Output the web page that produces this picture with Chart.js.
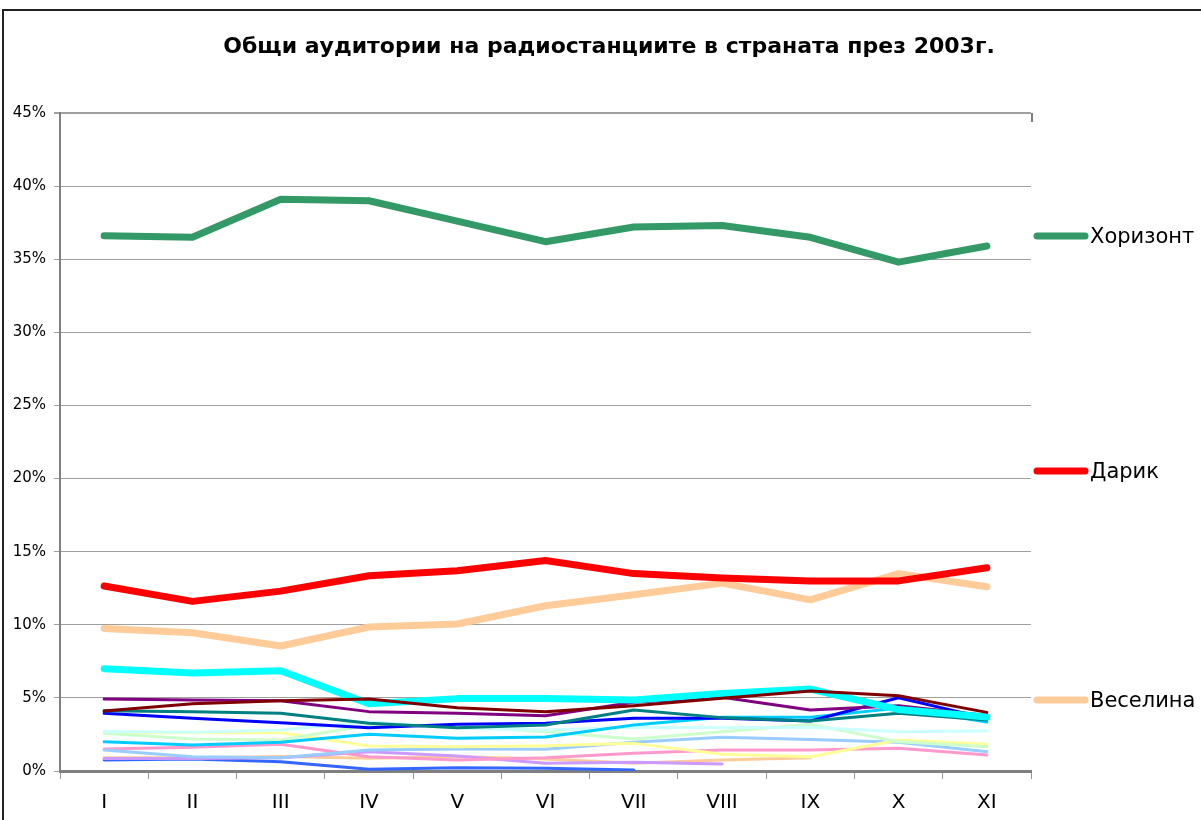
<!DOCTYPE html>
<html>
<head>
<meta charset="utf-8">
<title>Общи аудитории 2003</title>
<script src="https://cdn.jsdelivr.net/npm/chart.js@4.4.0/dist/chart.umd.min.js"></script>
<style>
    html, body { margin: 0; padding: 0; background: #fff; overflow: hidden; }
    #wrap { position: relative; width: 1201px; height: 820px; }
    #frame { position: absolute; left: 2px; top: 9px; width: 1300px; height: 900px;
             border-left: 2px solid #222; border-top: 2px solid #222; pointer-events: none; }
</style>
</head>
<body>
<div id="wrap">
    <canvas id="radioChart" width="1201" height="820"></canvas>
    <div id="frame"></div>
</div>
<script>
const months = ['I', 'II', 'III', 'IV', 'V', 'VI', 'VII', 'VIII', 'IX', 'X', 'XI'];
const yTicks = [0, 5, 10, 15, 20, 25, 30, 35, 40, 45];

// main stations (shown in legend)
const horizont = [36.6, 36.5, 39.1, 39.0, 37.6, 36.2, 37.2, 37.3, 36.5, 34.8, 35.9];
const darik = [12.65, 11.6, 12.3, 13.35, 13.7, 14.4, 13.5, 13.2, 13.0, 13.0, 13.9];
const veselina = [9.75, 9.45, 8.55, 9.85, 10.05, 11.3, 12.05, 12.85, 11.7, 13.5, 12.6];

// other stations (no legend entry)
const cyanSeries = [7.0, 6.7, 6.85, 4.6, 4.95, 4.95, 4.85, 5.3, 5.6, 4.2, 3.7];
const purpleSeries = [4.92, 4.86, 4.81, 4.06, 3.95, 3.78, 4.7, 5.05, 4.17, 4.47, 3.8];
const maroonSeries = [4.1, 4.6, 4.81, 4.92, 4.33, 4.06, 4.47, 4.97, 5.47, 5.15, 4.01];
const tealSeries = [4.12, 4.06, 3.95, 3.26, 2.96, 3.15, 4.17, 3.65, 3.42, 3.95, 3.49];
const blueSeries = [3.95, 3.6, 3.3, 2.96, 3.19, 3.26, 3.6, 3.6, 3.42, 5.01, 3.6];
const skySeries = [2.0, 1.78, 1.96, 2.51, 2.24, 2.32, 3.15, 3.67, 3.67, 4.3, 3.35];
const lightCyanSeries = [2.7, 2.65, 2.8, 3.37, 2.92, 2.8, 3.0, 2.96, 3.0, 2.69, 2.74];
const lightGreenSeries = [2.58, 2.19, 2.12, 3.15, 3.1, 2.69, 2.19, 2.69, 3.19, 2.0, 1.66];
const yellowSeries = [2.64, 2.62, 2.62, 1.71, 1.66, 1.73, 1.89, 1.14, 0.98, 2.12, 1.83];
const lightBlueSeries = [1.44, 0.98, 0.91, 1.44, 1.5, 1.48, 1.96, 2.3, 2.15, 1.96, 1.32];
const pinkSeries = [1.5, 1.62, 1.83, 0.98, 0.75, 0.91, 1.21, 1.44, 1.44, 1.55, 1.09];
const lavenderSeries = [0.85, 0.85, 0.9, 1.32, 1.03, 0.53, 0.59, 0.48, null, null, null];
const orangeSeries = [0.9, 0.91, 1.0, 0.87, 1.0, 0.82, 0.53, 0.75, 0.91, null, null];
const royalSeries = [0.75, 0.82, 0.64, 0.12, 0.23, 0.18, 0.07, null, null, null, null];

const legendNames = ['Хоризонт', 'Дарик', 'Веселина'];

function line(label, data, color, width) {
    return {
        label: label,
        data: data,
        borderColor: color,
        backgroundColor: color,
        borderWidth: width,
        pointRadius: 0,
        tension: 0,
        fill: false,
        spanGaps: false,
        borderJoinStyle: 'round',
        borderCapStyle: 'round'
    };
}

// title, legend and little frame bits drawn by hand
const extras = {
    id: 'extras',
    afterDraw(chart) {
        const c = chart.ctx;
        const area = chart.chartArea;
        c.save();
        c.fillStyle = '#000';
        c.font = 'bold 22px "DejaVu Sans"';
        c.textAlign = 'center';
        c.textBaseline = 'middle';
        c.fillText('Общи аудитории на радиостанциите в страната през 2003г.', 609, 47);

        // right stub of the plot border
        c.strokeStyle = '#808080';
        c.lineWidth = 2;
        c.beginPath();
        c.moveTo(area.right + 1, area.top);
        c.lineTo(area.right + 1, area.top + 9);
        c.stroke();

        const legendY = [236, 471, 700];
        c.font = '21px "DejaVu Sans"';
        c.textAlign = 'left';
        legendNames.forEach(function (name, i) {
            const ds = chart.data.datasets[i];
            c.strokeStyle = ds.borderColor;
            c.lineWidth = 7;
            c.lineCap = 'round';
            c.beginPath();
            c.moveTo(1037, legendY[i]);
            c.lineTo(1085, legendY[i]);
            c.stroke();
            c.fillStyle = '#000';
            c.fillText(name, 1090, legendY[i] + 2);
        });
        c.restore();
    }
};

const ctx = document.getElementById('radioChart').getContext('2d');

new Chart(ctx, {
    type: 'line',
    data: {
        labels: months,
        datasets: [
            line(legendNames[0], horizont, '#339966', 7),
            line(legendNames[1], darik, '#FF0000', 7),
            line(legendNames[2], veselina, '#FFCC99', 7),
            line('', maroonSeries, '#800000', 3),
            line('', cyanSeries, '#00FFFF', 7),
            line('', purpleSeries, '#800080', 3),
            line('', tealSeries, '#008080', 3),
            line('', blueSeries, '#0000FF', 3),
            line('', skySeries, '#00CCFF', 3),
            line('', lightCyanSeries, '#CCFFFF', 3),
            line('', lightGreenSeries, '#CCFFCC', 3),
            line('', yellowSeries, '#FFFF99', 3),
            line('', lightBlueSeries, '#99CCFF', 3),
            line('', pinkSeries, '#FF99CC', 3),
            line('', lavenderSeries, '#CC99FF', 3),
            line('', orangeSeries, '#FFCC99', 3),
            line('', royalSeries, '#3366FF', 3)
        ]
    },
    options: {
        responsive: false,
        animation: false,
        layout: {
            padding: { top: 113, right: 170, left: 0, bottom: 0 }
        },
        plugins: {
            legend: { display: false },
            title: { display: false },
            tooltip: { enabled: false }
        },
        scales: {
            x: {
                offset: true,
                afterFit: function (scale) { scale.height = 49; },
                grid: {
                    offset: true,
                    drawOnChartArea: false,
                    drawTicks: true,
                    tickLength: 8,
                    color: '#999999',
                    lineWidth: 1
                },
                border: { color: '#808080', width: 3 },
                ticks: {
                    color: '#000',
                    padding: 12,
                    maxRotation: 0,
                    font: { family: 'DejaVu Sans', size: 20 }
                }
            },
            y: {
                min: 0,
                max: 45,
                afterFit: function (scale) { scale.width = 60; },
                afterBuildTicks: function (scale) {
                    scale.ticks = yTicks.map(function (v) { return { value: v }; });
                },
                grid: {
                    color: '#A0A0A0',
                    lineWidth: function (c) { return c.tick && c.tick.value === 45 ? 2 : 1; },
                    tickLength: 6
                },
                border: { color: '#808080', width: 2 },
                ticks: {
                    color: '#000',
                    padding: 8,
                    font: { family: 'DejaVu Sans', size: 15 },
                    callback: function (v) { return v + '%'; }
                }
            }
        }
    },
    plugins: [extras]
});
</script>
</body>
</html>
